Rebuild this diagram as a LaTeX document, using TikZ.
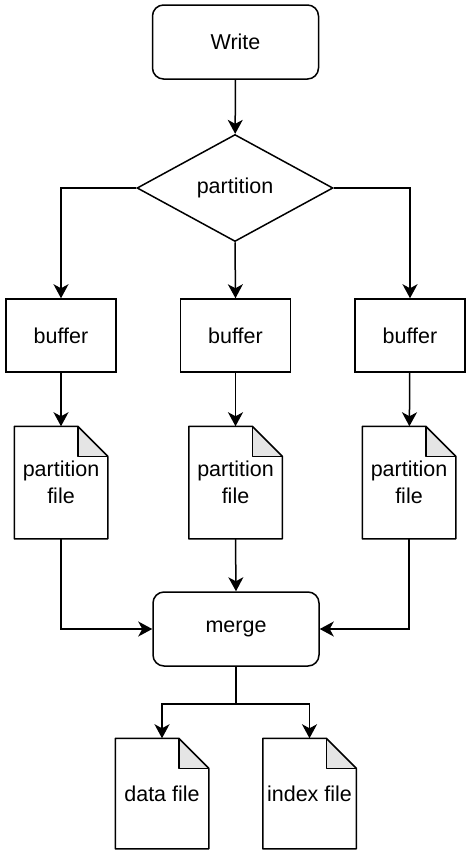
\documentclass[tikz,border=0pt]{standalone}
\usepackage{fontspec}
\setmainfont{Liberation Sans}
\usetikzlibrary{arrows.meta,calc,shapes.geometric}

\begin{document}
\begin{tikzpicture}[x=1pt,y=-1pt,line width=1.5pt,
    font=\fontsize{21.5}{27}\selectfont,
    arr/.style={-{Stealth[length=14pt,width=15pt,inset=4pt]}},
    roundbox/.style={draw,rounded corners=11pt,minimum width=166pt,minimum height=74pt},
    bufbox/.style={draw,minimum width=110pt,minimum height=73pt},
    filebox/.style={minimum width=92pt,minimum height=111pt,align=center,inner sep=0pt},
    decide/.style={draw,diamond,inner sep=0pt,aspect=1.83,minimum width=196pt,minimum height=107pt}]
\useasboundingbox (0,0) rectangle (472,857);

%---------------------------------------------------------------------------------------- TOP
\node[roundbox] (write) at (235.5,42) {Write};
\node[decide] (part) at (235,188) {partition};

%---------------------------------------------------------------------------------------- BUFFERS
\node[bufbox] (buf1) at (61,335.5) {buffer};
\node[bufbox] (buf2) at (235.5,335.5) {buffer};
\node[bufbox] (buf3) at (410,335.5) {buffer};

%---------------------------------------------------------------------------------------- FILES
\node[filebox] (pf1) at (61,482.5) {partition\\file};
\node[filebox] (pf2) at (235.5,482.5) {partition\\file};
\node[filebox] (pf3) at (409,482.5) {partition\\file};

\node[roundbox] (merge) at (236,629) {merge};

\node[filebox,minimum height=109pt] (df) at (162,793.5) {data file};
\node[filebox,minimum height=109pt] (ixf) at (309.5,793.5) {index file};

\foreach \n in {pf1,pf2,pf3,df,ixf}{   %------------------------------------------------- Dog-ear outline
    \fill[gray!20] ($(\n.north east)+(-30,0)$) -- ++(0,30) -- ++(30,0) -- cycle;
    \draw[line join=round] (\n.north west) -- ($(\n.north east)+(-30,0)$) -- ($(\n.north east)+(0,30)$)
        -- (\n.south east) -- (\n.south west) -- cycle;
    \draw[line join=round] ($(\n.north east)+(-30,0)$) -- ++(0,30) -- ++(30,0);
}

%---------------------------------------------------------------------------------------- ARROWS
\draw[arr] (write) -- (part);
\draw[arr] (part.west) -| (buf1.north);
\draw[arr] (part.south) -- (buf2.north);
\draw[arr] (part.east) -| (buf3.north);

\foreach \i in {1,2,3}
    \draw[arr] (buf\i) -- (pf\i);

\draw[arr] (pf1.south) |- (merge.west);
\draw[arr] (pf2.south) -- (merge.north);
\draw[arr] (pf3.south) |- (merge.east);

\coordinate (split) at ($(merge.south)+(0,37)$);
\draw (merge.south) -- (split);
\draw[arr] (split) -| (df.north);
\draw[arr] (split) -| (ixf.north);

\end{tikzpicture}
\end{document}
